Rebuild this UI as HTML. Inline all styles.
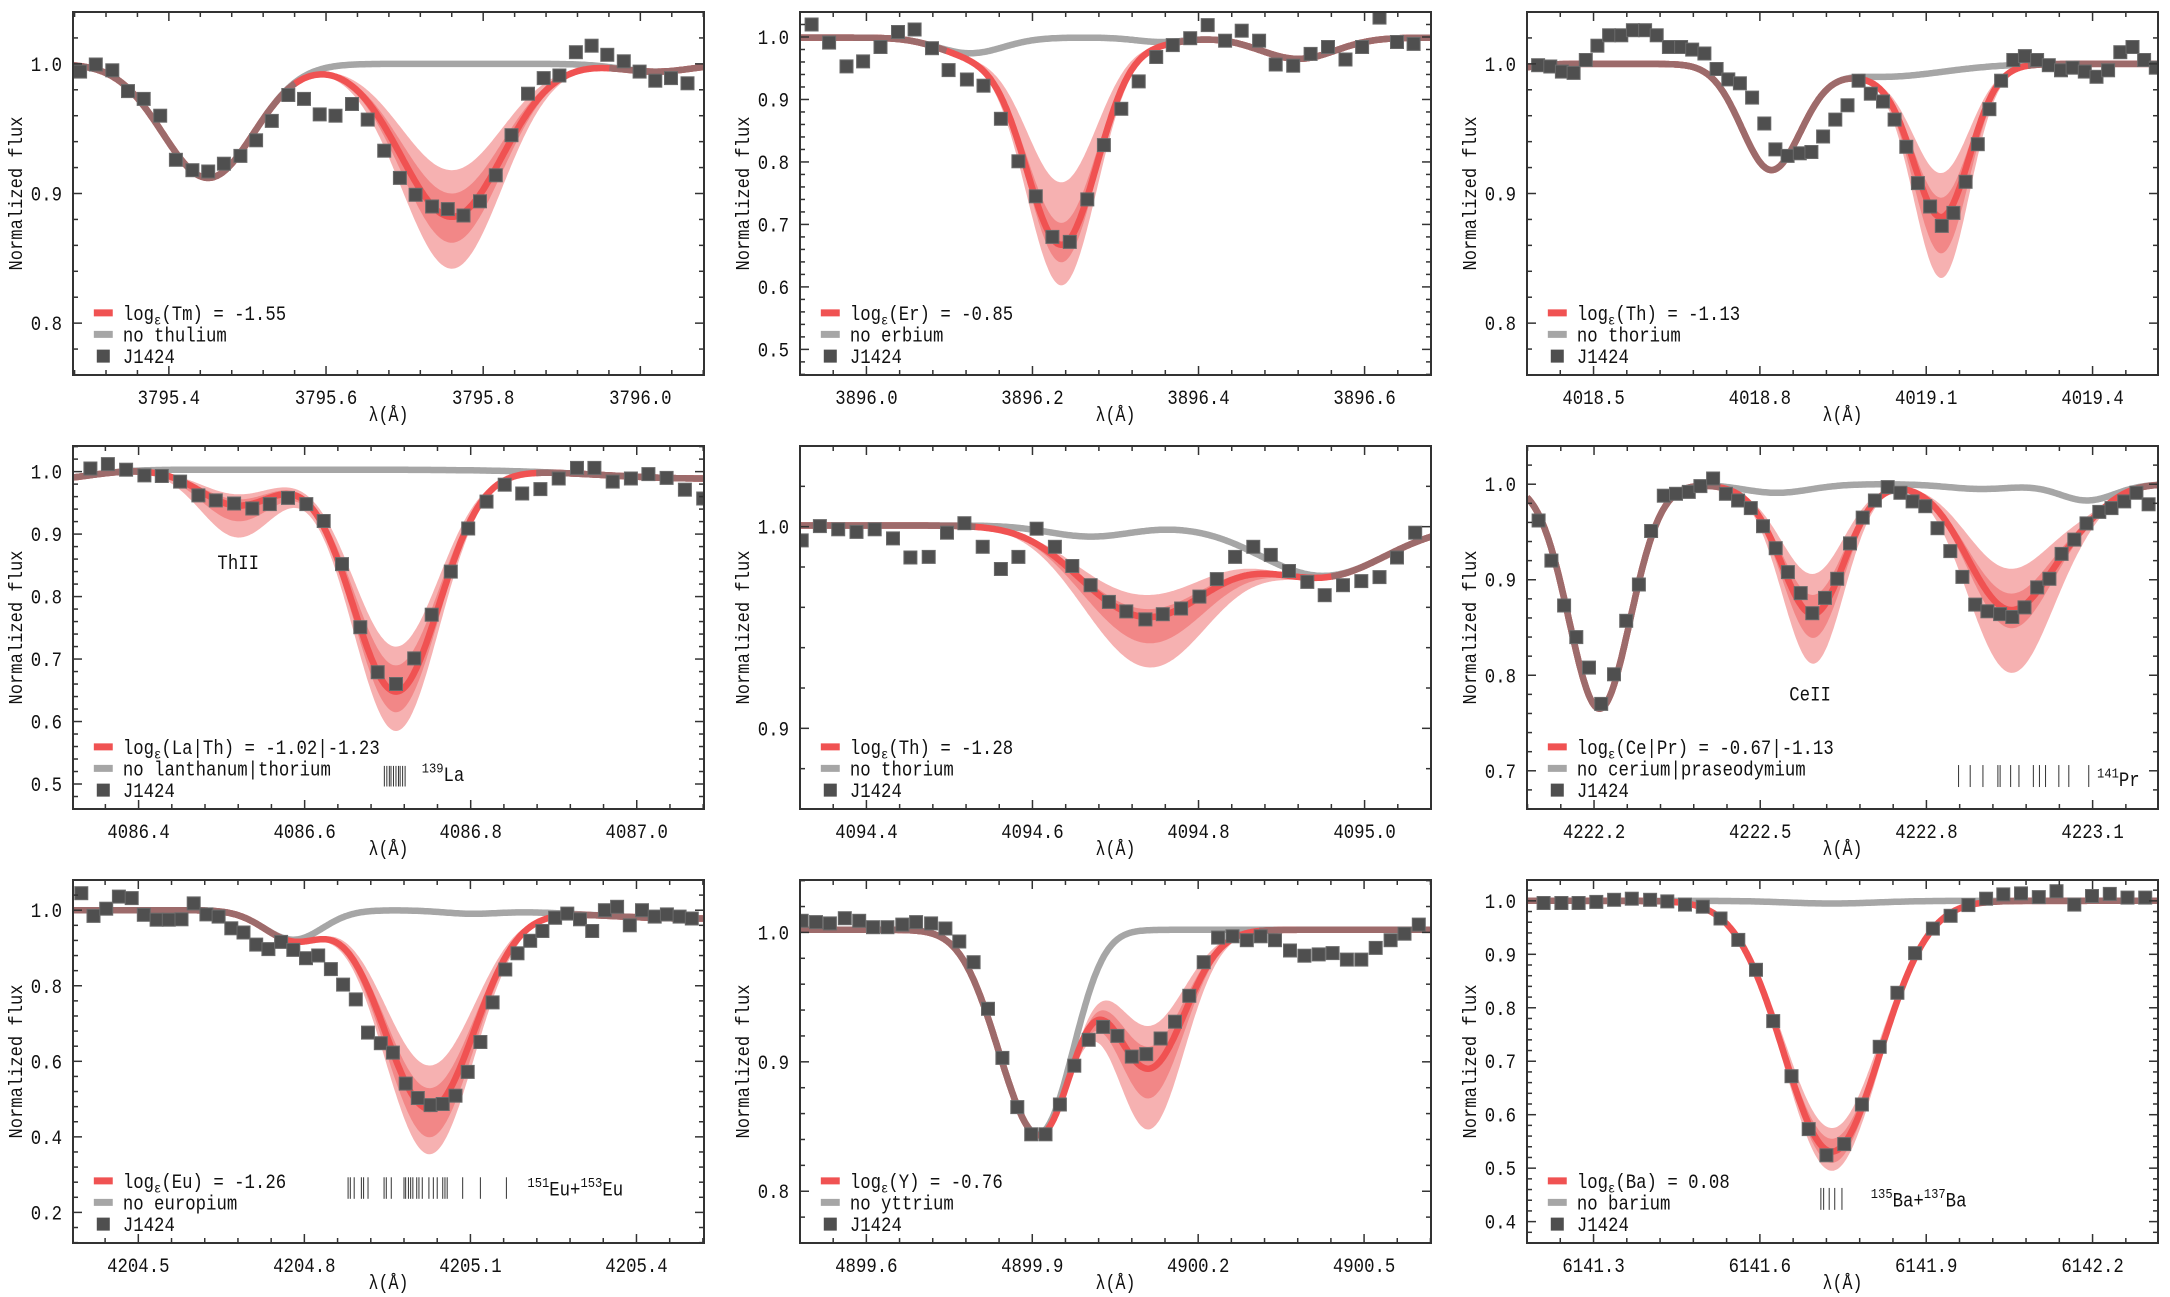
<!DOCTYPE html>
<html><head><meta charset="utf-8"><title>Spectral line fits</title>
<style>
html,body{margin:0;padding:0;background:#fff;}
svg{display:block;}
text{font-family:"Liberation Mono","DejaVu Sans Mono",monospace;fill:#111;}
</style></head>
<body>
<svg id="fig" xmlns="http://www.w3.org/2000/svg" width="2170" height="1297" viewBox="0 0 2170 1297"></svg>
<script>
// ---------- DATA ----------
const tmWave=[3795.287,3795.307,3795.328,3795.348,3795.368,3795.389,3795.409,3795.430,3795.450,3795.470,3795.491,3795.511,3795.531,3795.552,3795.572,3795.592,3795.612,3795.633,3795.653,3795.674,3795.694,3795.714,3795.735,3795.755,3795.775,3795.796,3795.816,3795.836,3795.857,3795.877,3795.897,3795.918,3795.938,3795.958,3795.979,3795.999,3796.019,3796.039,3796.060];
const tmFlux=[0.994,0.9995,0.995,0.979,0.973,0.960,0.926,0.918,0.917,0.923,0.929,0.941,0.956,0.976,0.973,0.961,0.960,0.969,0.957,0.933,0.912,0.899,0.890,0.888,0.883,0.894,0.914,0.945,0.977,0.989,0.991,1.009,1.014,1.007,1.002,0.994,0.987,0.989,0.985];
const tmGray=[[3795.45,0.088,0.058],[3796.02,0.006,0.045]];
const tmElem=[[3795.76,0.064,[0.158,0.138,0.118,0.100,0.082]]];

const erWave=[3895.934,3895.955,3895.976,3895.996,3896.017,3896.038,3896.058,3896.079,3896.099,3896.121,3896.141,3896.162,3896.183,3896.204,3896.224,3896.245,3896.266,3896.286,3896.307,3896.328,3896.349,3896.369,3896.390,3896.411,3896.432,3896.452,3896.473,3896.493,3896.514,3896.535,3896.556,3896.577,3896.597,3896.618,3896.639,3896.659];
const erFlux=[1.020,0.991,0.953,0.961,0.984,1.008,1.012,0.982,0.947,0.932,0.922,0.869,0.801,0.745,0.680,0.672,0.740,0.827,0.885,0.929,0.968,0.987,0.998,1.019,0.994,1.010,0.994,0.956,0.954,0.973,0.984,0.964,0.984,1.031,0.992,0.989];
const erGray=[[3896.125,0.025,0.04],[3896.355,0.007,0.03],[3896.52,0.034,0.045]];
const erElem=[[3896.235,0.043,[0.396,0.359,0.331,0.296,0.231]]];

const th1Wave=[4018.400,4018.422,4018.443,4018.464,4018.486,4018.507,4018.528,4018.550,4018.571,4018.593,4018.614,4018.636,4018.658,4018.678,4018.700,4018.722,4018.743,4018.764,4018.786,4018.808,4018.828,4018.850,4018.872,4018.893,4018.914,4018.936,4018.958,4018.978,4019.000,4019.022,4019.043,4019.064,4019.085,4019.107,4019.128,4019.149,4019.171,4019.193,4019.214,4019.235,4019.257,4019.278,4019.300,4019.321,4019.343,4019.364,4019.386,4019.407,4019.428,4019.450,4019.472,4019.493,4019.514];
const th1Flux=[0.999,0.998,0.994,0.993,1.003,1.014,1.022,1.022,1.026,1.026,1.022,1.013,1.013,1.011,1.008,0.996,0.988,0.985,0.974,0.954,0.934,0.929,0.931,0.932,0.944,0.957,0.968,0.987,0.977,0.971,0.957,0.936,0.908,0.890,0.875,0.885,0.909,0.938,0.965,0.987,1.003,1.006,1.003,0.999,0.995,0.997,0.994,0.990,0.995,1.009,1.013,1.003,0.997];
const th1Gray=[[4018.82,0.08,0.053],[4019.02,0.01,0.11],[4018.30,0.01,0.05]];
const th1Elem=[[4019.128,0.05,[0.159,0.140,0.112,0.097,0.078]]];

const laWave=[4086.342,4086.363,4086.385,4086.407,4086.428,4086.450,4086.472,4086.493,4086.515,4086.537,4086.558,4086.580,4086.602,4086.623,4086.645,4086.667,4086.688,4086.710,4086.732,4086.753,4086.776,4086.797,4086.819,4086.841,4086.862,4086.884,4086.906,4086.928,4086.949,4086.971,4086.993,4087.014,4087.036,4087.058,4087.080];
const laFlux=[1.005,1.012,1.003,0.994,0.993,0.984,0.962,0.954,0.949,0.941,0.948,0.958,0.948,0.921,0.852,0.751,0.679,0.660,0.701,0.771,0.840,0.909,0.952,0.979,0.965,0.972,0.989,1.006,1.006,0.984,0.989,0.996,0.990,0.971,0.957];
const laGray=[[4086.29,0.015,0.05],[4087.08,0.014,0.12]];
const laElem=[[4086.52,0.045,[0.108,0.082,0.057,0.047,0.039]],[4086.71,0.052,[0.418,0.388,0.355,0.313,0.283]]];
const laMarks=[4086.696,4086.699,4086.702,4086.704,4086.707,4086.710,4086.713,4086.715,4086.718,4086.721];

const th2Wave=[4094.322,4094.344,4094.366,4094.388,4094.410,4094.432,4094.453,4094.475,4094.497,4094.518,4094.540,4094.562,4094.583,4094.605,4094.627,4094.648,4094.670,4094.692,4094.713,4094.736,4094.757,4094.779,4094.801,4094.822,4094.844,4094.866,4094.887,4094.909,4094.931,4094.952,4094.974,4094.996,4095.018,4095.039,4095.061];
const th2Flux=[0.9932,1.0003,0.9987,0.9974,0.9987,0.9942,0.9847,0.985,0.997,1.0017,0.990,0.979,0.985,0.999,0.990,0.9805,0.971,0.9627,0.958,0.954,0.9566,0.9594,0.9653,0.974,0.985,0.990,0.986,0.978,0.9726,0.966,0.971,0.973,0.975,0.9847,0.997];
const th2Gray=[[4094.67,0.0055,0.05],[4094.95,0.025,0.075]];
const th2Elem=[[4094.745,0.073,[0.068,0.056,0.043,0.039,0.032]]];

const ceWave=[4222.100,4222.123,4222.146,4222.168,4222.191,4222.213,4222.236,4222.258,4222.281,4222.303,4222.326,4222.348,4222.371,4222.392,4222.415,4222.438,4222.460,4222.483,4222.505,4222.528,4222.550,4222.573,4222.594,4222.617,4222.639,4222.662,4222.685,4222.707,4222.730,4222.753,4222.775,4222.798,4222.820,4222.843,4222.865,4222.888,4222.910,4222.933,4222.955,4222.977,4223.000,4223.022,4223.044,4223.067,4223.089,4223.112,4223.134,4223.157,4223.179,4223.201];
const ceFlux=[0.962,0.920,0.873,0.840,0.808,0.770,0.801,0.857,0.895,0.951,0.988,0.990,0.992,0.998,1.006,0.990,0.983,0.975,0.956,0.933,0.908,0.886,0.865,0.881,0.901,0.938,0.965,0.983,0.997,0.991,0.982,0.977,0.954,0.930,0.903,0.874,0.867,0.864,0.861,0.871,0.892,0.901,0.927,0.942,0.959,0.971,0.975,0.982,0.991,0.979];
const ceGray=[[4222.21,0.235,0.055],[4222.53,0.009,0.06],[4222.90,0.005,0.06],[4223.09,0.017,0.05]];
const ceElem=[[4222.597,0.055,[0.183,0.156,0.131,0.111,0.089]],[4222.92,0.065,[0.112,0.085,0.074,0.064,0.049]],[4222.99,0.065,[0.112,0.085,0.074,0.064,0.049]]];
const prMarks=[4222.858,4222.879,4222.902,4222.929,4222.933,4222.952,4222.967,4222.993,4223.004,4223.015,4223.039,4223.057,4223.093];

const euWave=[4204.397,4204.419,4204.442,4204.465,4204.488,4204.510,4204.533,4204.555,4204.578,4204.600,4204.623,4204.645,4204.668,4204.690,4204.713,4204.735,4204.758,4204.780,4204.803,4204.825,4204.848,4204.870,4204.893,4204.915,4204.938,4204.960,4204.983,4205.005,4205.028,4205.050,4205.073,4205.095,4205.118,4205.140,4205.163,4205.185,4205.208,4205.230,4205.253,4205.275,4205.298,4205.320,4205.343,4205.365,4205.388,4205.410,4205.433,4205.455,4205.478,4205.500];
const euFlux=[1.045,0.985,1.004,1.036,1.032,0.988,0.975,0.975,0.976,1.018,0.989,0.983,0.952,0.941,0.909,0.897,0.916,0.895,0.873,0.880,0.844,0.803,0.764,0.676,0.648,0.623,0.541,0.503,0.484,0.487,0.509,0.572,0.651,0.756,0.843,0.886,0.919,0.945,0.980,0.991,0.976,0.945,1.000,1.009,0.960,1.000,0.983,0.989,0.983,0.978];
const euGray=[[4204.78,0.078,0.053],[4205.10,0.008,0.05],[4205.50,0.022,0.17]];
const euElem=[[4205.025,0.08,[0.643,0.598,0.523,0.468,0.408]]];
const euMarks=[4204.879,4204.883,4204.890,4204.903,4204.907,4204.915,4204.944,4204.948,4204.957,4204.980,4204.983,4204.988,4204.992,4204.996,4205.003,4205.007,4205.013,4205.025,4205.033,4205.040,4205.050,4205.054,4205.058,4205.086,4205.118,4205.165];

const yWave=[4899.483,4899.509,4899.534,4899.561,4899.587,4899.612,4899.638,4899.665,4899.690,4899.717,4899.743,4899.768,4899.794,4899.820,4899.846,4899.873,4899.898,4899.924,4899.950,4899.976,4900.002,4900.028,4900.054,4900.080,4900.106,4900.132,4900.158,4900.184,4900.210,4900.236,4900.262,4900.288,4900.313,4900.339,4900.366,4900.392,4900.418,4900.443,4900.469,4900.495,4900.521,4900.548,4900.573,4900.599];
const yFlux=[1.009,1.008,1.007,1.011,1.009,1.004,1.004,1.006,1.008,1.007,1.003,0.993,0.977,0.941,0.903,0.865,0.844,0.844,0.867,0.897,0.917,0.927,0.920,0.904,0.906,0.918,0.931,0.951,0.977,0.996,0.997,0.994,0.997,0.994,0.986,0.982,0.983,0.984,0.979,0.979,0.988,0.994,0.999,1.006];
const yGray=[[4899.88,0.105,0.06],[4899.94,0.078,0.05]];
const yElem=[[4900.11,0.065,[0.154,0.130,0.107,0.090,0.074]]];

const baWave=[6141.210,6141.242,6141.273,6141.305,6141.337,6141.369,6141.402,6141.433,6141.465,6141.497,6141.529,6141.561,6141.593,6141.624,6141.657,6141.688,6141.720,6141.752,6141.784,6141.816,6141.848,6141.880,6141.912,6141.944,6141.976,6142.008,6142.039,6142.071,6142.103,6142.135,6142.167,6142.199,6142.231,6142.263,6142.295];
const baFlux=[0.996,0.996,0.996,0.998,1.002,1.004,1.002,0.999,0.993,0.989,0.967,0.927,0.871,0.775,0.672,0.573,0.524,0.545,0.619,0.727,0.828,0.902,0.948,0.972,0.992,1.004,1.012,1.014,1.007,1.018,0.993,1.009,1.013,1.006,1.006];
const baGray=[[6141.73,0.005,0.08]];
const baElem=[[6141.73,0.087,[0.500,0.485,0.464,0.440,0.420]]];
const baMarks=[6141.710,6141.715,6141.725,6141.735,6141.748];

const xTickLabels=[["3795.4","3795.6","3795.8","3796.0"],["3896.0","3896.2","3896.4","3896.6"],["4018.5","4018.8","4019.1","4019.4"],["4086.4","4086.6","4086.8","4087.0"],["4094.4","4094.6","4094.8","4095.0"],["4222.2","4222.5","4222.8","4223.1"],["4204.5","4204.8","4205.1","4205.4"],["4899.6","4899.9","4900.2","4900.5"],["6141.3","6141.6","6141.9","6142.2"]];
const yTickLabels=[["0.8","0.9","1.0"],["0.5","0.6","0.7","0.8","0.9","1.0"],["0.8","0.9","1.0"],["0.5","0.6","0.7","0.8","0.9","1.0"],["0.9","1.0"],["0.7","0.8","0.9","1.0"],["0.2","0.4","0.6","0.8","1.0"],["0.8","0.9","1.0"],["0.4","0.5","0.6","0.7","0.8","0.9","1.0"]];

// ---------- PANEL CONFIG ----------
const panels=[
 {key:'tm',col:0,row:0,x:[3795.278,3796.081],y:[0.760,1.040],xm:0.04,ym:0.02,cont:1.0,wave:tmWave,flux:tmFlux,gray:tmGray,elem:tmElem,el:'Tm',val:'-1.55',no:'no thulium'},
 {key:'er',col:1,row:0,x:[3895.920,3896.680],y:[0.459,1.040],xm:0.04,ym:0.02,cont:0.999,wave:erWave,flux:erFlux,gray:erGray,elem:erElem,el:'Er',val:'-0.85',no:'no erbium'},
 {key:'th1',col:2,row:0,x:[4018.380,4019.518],y:[0.760,1.040],xm:0.06,ym:0.02,cont:1.0,wave:th1Wave,flux:th1Flux,gray:th1Gray,elem:th1Elem,el:'Th',val:'-1.13',no:'no thorium'},
 {key:'la',col:0,row:1,x:[4086.321,4087.081],y:[0.460,1.041],xm:0.04,ym:0.02,cont:1.003,wave:laWave,flux:laFlux,gray:laGray,elem:laElem,el:'La|Th',val:'-1.02|-1.23',no:'no lanthanum|thorium',
   marks:laMarks,markY:[0.496,0.529],markLabel:[['139','sup'],['La','']],markLabelX:4086.741,markLabelY:0.505,ion:['ThII',4086.52,0.855]},
 {key:'th2',col:1,row:1,x:[4094.320,4095.080],y:[0.860,1.040],xm:0.04,ym:0.02,cont:1.0006,wave:th2Wave,flux:th2Flux,gray:th2Gray,elem:th2Elem,el:'Th',val:'-1.28',no:'no thorium'},
 {key:'ce',col:2,row:1,x:[4222.079,4223.218],y:[0.660,1.040],xm:0.06,ym:0.02,cont:1.0,wave:ceWave,flux:ceFlux,gray:ceGray,elem:ceElem,el:'Ce|Pr',val:'-0.67|-1.13',no:'no cerium|praseodymium',
   marks:prMarks,markY:[0.683,0.706],markLabel:[['141','sup'],['Pr','']],markLabelX:4223.108,markLabelY:0.684,ion:['CeII',4222.590,0.781]},
 {key:'eu',col:0,row:2,x:[4204.382,4205.522],y:[0.119,1.080],xm:0.06,ym:0.04,cont:1.0,wave:euWave,flux:euFlux,gray:euGray,elem:euElem,el:'Eu',val:'-1.26',no:'no europium',
   marks:euMarks,markY:[0.236,0.293],markLabel:[['151','sup'],['Eu+',''],['153','sup'],['Eu','']],markLabelX:4205.203,markLabelY:0.245},
 {key:'y',col:1,row:2,x:[4899.480,4900.621],y:[0.760,1.0405],xm:0.06,ym:0.02,cont:1.002,wave:yWave,flux:yFlux,gray:yGray,elem:yElem,el:'Y',val:'-0.76',no:'no yttrium'},
 {key:'ba',col:2,row:2,x:[6141.180,6142.318],y:[0.360,1.039],xm:0.06,ym:0.02,cont:1.0,wave:baWave,flux:baFlux,gray:baGray,elem:baElem,el:'Ba',val:'0.08',no:'no barium',
   marks:baMarks,markY:[0.422,0.463],markLabel:[['135','sup'],['Ba+',''],['137','sup'],['Ba','']],markLabelX:6141.800,markLabelY:0.428}
];
const colLeft=[73,800,1527], rowTop=[12,446,880], PW=631, PH=363;

// ---------- DRAWING ----------
const NS='http://www.w3.org/2000/svg';
const svg=document.getElementById('fig');
function mk(tag,attrs,parent){const e=document.createElementNS(NS,tag);for(const k in attrs)e.setAttribute(k,attrs[k]);(parent||svg).appendChild(e);return e;}
function gauss(x,c,s){return Math.exp(-(x-c)*(x-c)/(2*s*s));}
function grayModel(p,x){let f=p.cont;for(const g of p.gray)f-=g[1]*gauss(x,g[0],g[2]);return f;}
function elemModel(p,x,k){let f=grayModel(p,x);for(const e of p.elem)f-=e[2][k]*gauss(x,e[0],e[1]);return f;}
function textWidth(parts,size){let w=0;for(const pt of parts){const s=pt[1]?size*0.7:size;w+=pt[0].length*s*0.52;}return w;}
function richText(parent,x,y,parts,size,anchor){
  const t=mk('text',{x:x,y:y,'font-size':size,'text-anchor':anchor||'start'},parent);
  let shift=0;
  for(const pt of parts){
    const ts=mk('tspan',{},t);
    let target=0;
    if(pt[1]==='sup'){ts.setAttribute('font-size',size*0.7);target=-size*0.42;}
    else if(pt[1]==='sub'){ts.setAttribute('font-size',size*0.7);target=size*0.22;}
    ts.setAttribute('dy',target-shift);shift=target;
    ts.textContent=pt[0];
  }
  t.setAttribute('textLength',textWidth(parts,size).toFixed(1));
  t.setAttribute('lengthAdjust','spacingAndGlyphs');
  return t;
}

panels.forEach((p,pi)=>{
  const L=colLeft[p.col],T=rowTop[p.row],R=L+PW,B=T+PH;
  const sx=v=>L+(v-p.x[0])/(p.x[1]-p.x[0])*PW;
  const sy=v=>B-(v-p.y[0])/(p.y[1]-p.y[0])*PH;
  const g=mk('g',{});
  
  
  const clipId='clip'+pi;
  const cp=mk('clipPath',{id:clipId},g);mk('rect',{x:L,y:T,width:PW,height:PH},cp);
  const plot=mk('g',{'clip-path':'url(#'+clipId+')'},g);
  // model sampling
  const N=500,xs=[];for(let i=0;i<=N;i++)xs.push(p.x[0]+(p.x[1]-p.x[0])*i/N);
  const lev=k=>xs.map(x=>elemModel(p,x,k));
  const L0=lev(0),L1=lev(1),L2=lev(2),L3=lev(3),L4=lev(4),G=xs.map(x=>grayModel(p,x));
  const band=(a,b)=>{let d='';xs.forEach((x,i)=>{d+=(i?'L':'M')+sx(x).toFixed(1)+','+sy(a[i]).toFixed(1);});for(let i=xs.length-1;i>=0;i--)d+='L'+sx(xs[i]).toFixed(1)+','+sy(b[i]).toFixed(1);return d+'Z';};
  const ob=mk('path',{d:band(L0,L4),fill:'#f6b1b1'},plot);
  
  
  const ib=mk('path',{d:band(L1,L3),fill:'#f28787'},plot);
  
  
  const line=arr=>{let d='';xs.forEach((x,i)=>{d+=(i?'L':'M')+sx(x).toFixed(1)+','+sy(arr[i]).toFixed(1);});return d;};
  const gl=mk('path',{d:line(G),fill:'none',stroke:'#a6a6a6','stroke-width':6.5,'stroke-linejoin':'round'},plot);
  
  
  const rl=mk('path',{d:line(L2),fill:'none',stroke:'#f05252','stroke-width':6.5,'stroke-linejoin':'round'},plot);
  
  
  // overlap (brownish) where fit coincides with no-element line
  let od='',on=false;
  xs.forEach((x,i)=>{const close=Math.abs(sy(L2[i])-sy(G[i]))<1.2;
    if(close){od+=(on?'L':'M')+sx(x).toFixed(1)+','+sy(L2[i]).toFixed(1);on=true;}else on=false;});
  const ol=mk('path',{d:od,fill:'none',stroke:'#9d6b6b','stroke-width':6.5,'stroke-linejoin':'round','stroke-linecap':'butt'},plot);
  
  
  // observed points
  const pts=mk('g',{},plot);
  
  
  p.wave.forEach((w,i)=>{
    const r=mk('rect',{x:(sx(w)-6.5).toFixed(1),y:(sy(p.flux[i])-6.5).toFixed(1),width:13,height:13,fill:'#4f4f4f',stroke:'#6a6a6a','stroke-width':1},pts);
    
    
  });
  // line-list marks
  if(p.marks){
    const mg=mk('g',{},g);
    
    
    p.marks.forEach(m=>{mk('line',{x1:sx(m),x2:sx(m),y1:sy(p.markY[0]),y2:sy(p.markY[1]),stroke:'#333','stroke-width':1},mg);});
    const ml=richText(g,sx(p.markLabelX),sy(p.markLabelY),p.markLabel,20,'start');
    
    
  }
  if(p.ion){
    const it=richText(g,sx(p.ion[1]),sy(p.ion[2])+7,[[p.ion[0],'']],20,'middle');
    
    
  }
  // frame
  const fr=mk('rect',{x:L,y:T,width:PW,height:PH,fill:'none',stroke:'#333','stroke-width':2},g);
  
  
  // ticks
  const tk=mk('g',{stroke:'#333','stroke-width':1.5},g);
  
  
  const xl=xTickLabels[pi].map(Number), yl=yTickLabels[pi].map(Number);
  for(let k=Math.ceil(p.x[0]/p.xm-1e-6);k*p.xm<=p.x[1]+1e-9;k++){const v=k*p.xm,X=sx(v);
    const maj=xl.some(t=>Math.abs(t-v)<1e-6);const len=maj?9:5;
    mk('line',{x1:X,x2:X,y1:B,y2:B-len},tk);mk('line',{x1:X,x2:X,y1:T,y2:T+len},tk);}
  for(let k=Math.ceil(p.y[0]/p.ym-1e-6);k*p.ym<=p.y[1]+1e-9;k++){const v=k*p.ym,Y=sy(v);
    const maj=yl.some(t=>Math.abs(t-v)<1e-6);const len=maj?9:5;
    mk('line',{x1:L,x2:L+len,y1:Y,y2:Y},tk);mk('line',{x1:R,x2:R-len,y1:Y,y2:Y},tk);}
  xTickLabels[pi].forEach(s=>{const t=richText(g,sx(Number(s)),B+29,[[s,'']],20,'middle');
    
    });
  yTickLabels[pi].forEach(s=>{const t=richText(g,L-11,sy(Number(s))+7,[[s,'']],20,'end');
    
    });
  // axis titles
  const xt=mk('text',{x:L+PW/2,y:B+46,'font-size':20,'text-anchor':'middle',textLength:40,lengthAdjust:'spacingAndGlyphs'},g);
  xt.textContent='λ(Å)';
  
  
  const yt=mk('text',{x:0,y:0,'font-size':19,'text-anchor':'middle',textLength:154,lengthAdjust:'spacingAndGlyphs',transform:'translate('+(L-51)+','+(T+PH/2)+') rotate(-90)'},g);
  yt.textContent='Normalized flux';
  
  
  // legend
  const lg=mk('g',{},g);
  
  
  const rows=[0.171,0.112,0.052].map(f=>B-PH*f);
  const lx0=L+PW*0.033,lx1=L+PW*0.063,tx=L+PW*0.079;
  mk('line',{x1:lx0,x2:lx1,y1:rows[0],y2:rows[0],stroke:'#f05252','stroke-width':7},lg);
  mk('line',{x1:lx0,x2:lx1,y1:rows[1],y2:rows[1],stroke:'#a6a6a6','stroke-width':7},lg);
  mk('rect',{x:(lx0+lx1)/2-6.5,y:rows[2]-6.5,width:13,height:13,fill:'#4f4f4f'},lg);
  const e1=richText(lg,tx,rows[0]+7,[['log',''],['ε','sub'],['('+p.el+') = '+p.val,'']],20,'start');
  
  
  const e2=richText(lg,tx,rows[1]+7,[[p.no,'']],20,'start');
  
  
  const e3=richText(lg,tx,rows[2]+7,[['J1424','']],20,'start');
  
  
});
</script>
</body></html>
